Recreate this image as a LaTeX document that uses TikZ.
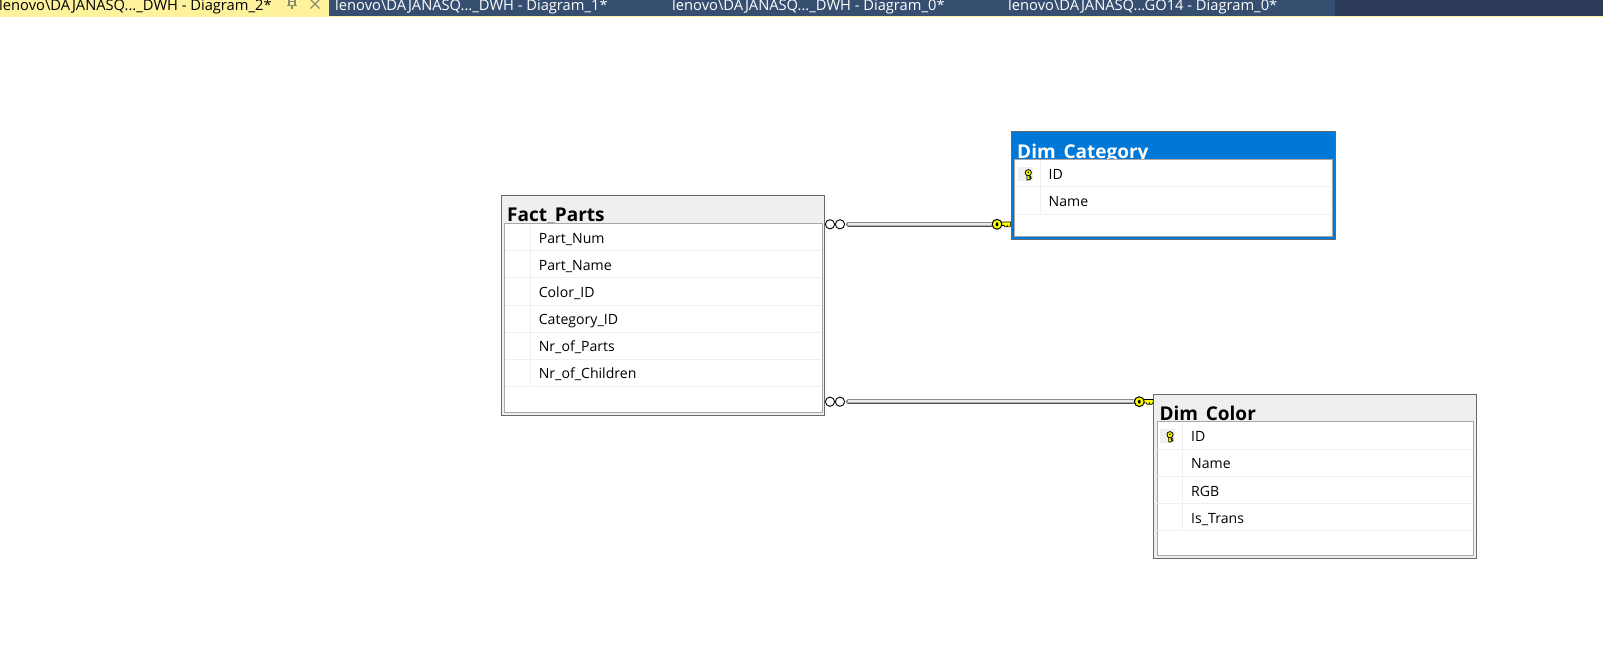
\documentclass[tikz,border=0pt]{standalone}
\usepackage{fontspec}
\setmainfont{Open Sans}
\definecolor{tabyellow}{HTML}{FFF29D}
\definecolor{tabblue}{HTML}{364F70}
\definecolor{tabdark}{HTML}{2B3A58}
\definecolor{selblue}{HTML}{0078D7}
\definecolor{titlegrey}{HTML}{EFEFEF}
\definecolor{outergrey}{HTML}{696969}
\definecolor{innergrey}{HTML}{A8A8A8}
\definecolor{rowgrey}{HTML}{EFEFEF}
\definecolor{keyyellow}{HTML}{FFFF00}
\definecolor{glyphgrey}{HTML}{8C8A70}
\tikzset{
  tabtext/.style={anchor=base west,inner sep=0pt,font=\fontsize{14.7}{15}\selectfont},
  titletext/.style={anchor=base west,inner sep=0pt,font=\fontsize{19}{20}\selectfont\bfseries},
  rowtext/.style={anchor=base west,inner sep=0pt,font=\fontsize{14.1}{15}\selectfont},
  outerbox/.style={draw=outergrey,line width=1pt,fill=titlegrey,rectangle,inner sep=0pt,anchor=north west},
  selbox/.style={draw=outergrey,line width=1pt,fill=selblue,rectangle,inner sep=0pt,anchor=north west},
  innerbox/.style={draw=innergrey,line width=1pt,fill=white,rectangle,inner sep=0pt,anchor=north west},
  rowline/.style={draw=rowgrey,line width=1pt},
  infcircle/.style={draw=black,fill=white,line width=.9pt},
  keypart/.style={draw=black,fill=keyyellow,line width=1pt},
  keyshaft/.style={draw=black,fill=keyyellow,line width=.7pt},
  endnode/.style={rectangle,inner sep=0pt,minimum height=5pt},
}
% large key, pointing right, origin at the circle centre
\newcommand{\bigkey}[1]{%
  \begin{scope}[shift={(#1)}]
    \filldraw[keyshaft] (4,-2.2) -- (13.8,-2.2) -- (13.8,1) -- (12.6,2.6) -- (10.6,2.6) -- (10.2,1.3) -- (9.6,2.6) -- (7.8,2.6) -- (7.2,1.3) -- (4,1.3) -- cycle;
    \filldraw[keypart] (0,0) circle (4.9);
    \fill[black] (0,0) ellipse (1.4 and 2);
  \end{scope}}
% small key, pointing down
\newcommand{\smallkey}[1]{%
  \begin{scope}[shift={(#1)}]
    \fill[titlegrey] (-10,-6.7) rectangle (5,7);
    \filldraw[keypart,line width=.8pt] (-1.3,1) -- (1.3,1) -- (1.3,2.2) -- (2.7,3) -- (1.3,3.8) -- (2.7,4.6) -- (.6,5.9) -- (-1.3,5.9) -- cycle;
    \filldraw[keypart,line width=.8pt] (0,-1.3) circle (3.1);
    \fill[black] (0,-1.7) circle (.9);
  \end{scope}}
\begin{document}
\begin{tikzpicture}[x=1pt,y=-1pt]
\useasboundingbox (0,0) rectangle (1603,660);
\fill[white] (0,0) rectangle (1603,660);
% tab bar
\fill[tabdark] (0,0) rectangle (1603,15.7);
\fill[tabblue] (329,0) rectangle (1335,15.7);
\fill[tabyellow] (0,0) rectangle (329,15.7);
\fill[tabyellow] (0,15.7) rectangle (1603,17.3);
\begin{scope}
\clip (0,0) rectangle (1603,15.7);
\node[tabtext,text=black] (tab1) at (-1,10.7) {lenovo\textbackslash DAJANASQ...\_DWH - Diagram\_2*};
\node[tabtext,text=white] (tab2) at (335,10.7) {lenovo\textbackslash DAJANASQ...\_DWH - Diagram\_1*};
\node[tabtext,text=white] (tab3) at (672,10.7) {lenovo\textbackslash DAJANASQ...\_DWH - Diagram\_0*};
\node[tabtext,text=white] (tab4) at (1008,10.7) {lenovo\textbackslash DAJANASQ...GO14 - Diagram\_0*};
\end{scope}
% pin and close glyphs in the active tab
\draw[glyphgrey,line width=1.1pt] (289,0) -- (289,5.5) (295,0) -- (295,5.5) (287,5.5) -- (297,5.5) (292,5.5) -- (292,9) (289,1.5) -- (295,1.5);
\draw[glyphgrey,line width=1.3pt] (310.5,-.5) -- (319.5,8.5) (319.5,-.5) -- (310.5,8.5);

% Fact_Parts
\node[outerbox,minimum width=323.3pt,minimum height=219.7pt] (fact) at (501,195) {};
\node[titletext,text=black] (factT) at (507,221.7) {Fact\_Parts};
\node[innerbox,minimum width=317.2pt,minimum height=188.2pt] (factI) at (504.3,223.5) {};
\foreach \yy in {250.9,278,305.1,332.2,359.3,386.4} \draw[rowline] (504.8,\yy) -- (821,\yy);
\draw[rowline] (530,224) -- (530,386.4);
\node[rowtext] (f1) at (538.6,243.3) {Part\_Num};
\node[rowtext] (f2) at (538.6,270.4) {Part\_Name};
\node[rowtext] (f3) at (538.6,297.5) {Color\_ID};
\node[rowtext] (f4) at (538.6,324.6) {Category\_ID};
\node[rowtext] (f5) at (538.6,351.7) {Nr\_of\_Parts};
\node[rowtext] (f6) at (538.6,378.8) {Nr\_of\_Children};

% Dim_Category
\node[selbox,minimum width=324pt,minimum height=108.3pt] (cat) at (1011,131) {};
\node[titletext,text=white] (catT) at (1017,158.5) {Dim\_Category};
\node[innerbox,minimum width=317.2pt,minimum height=76.7pt] (catI) at (1014.3,159.3) {};
\foreach \yy in {187,214.3} \draw[rowline] (1014.8,\yy) -- (1331,\yy);
\draw[rowline] (1040.7,160) -- (1040.7,214.3);
\smallkey{1028.3,174}
\node[rowtext] (c1) at (1048.5,179.3) {ID};
\node[rowtext] (c2) at (1048.5,206.4) {Name};

% Dim_Color
\node[outerbox,minimum width=322.9pt,minimum height=164pt] (col) at (1153.3,394.2) {};
\node[titletext,text=black] (colT) at (1159.3,420) {Dim\_Color};
\node[innerbox,minimum width=316.6pt,minimum height=133.7pt] (colI) at (1156.7,421.3) {};
\foreach \yy in {449,476.2,503.4,530.6} \draw[rowline] (1157.2,\yy) -- (1472.8,\yy);
\draw[rowline] (1182,422) -- (1182,530.6);
\smallkey{1170,436}
\node[rowtext] (d1) at (1191,441.6) {ID};
\node[rowtext] (d2) at (1191,468.8) {Name};
\node[rowtext] (d3) at (1191,496) {RGB};
\node[rowtext] (d4) at (1191,523.2) {Is\_Trans};

% connector ends
\node[endnode,minimum width=21.7pt] (inf1) at (835.2,224.3) {};
\node[endnode,minimum width=21.7pt] (inf2) at (835.2,401.7) {};
\node[endnode,minimum width=10pt] (key1) at (997,224.3) {};
\node[endnode,minimum width=10pt] (key2) at (1139.3,401.7) {};
% connectors
\foreach \a/\b in {inf1/key1,inf2/key2}{
  \draw[black!45,line width=4.6pt,line cap=round] ([xshift=2pt]\a.east) -- (\b.west);
  \draw[black!8,line width=1.6pt] ([shift={(2,-.5)}]\a.east) -- ([yshift=.5pt]\b.west);
  \draw[black!30,line width=.8pt] ([shift={(2,.7)}]\a.east) -- ([yshift=-.7pt]\b.west);
  \draw[black!70,line width=1.1pt] ([shift={(1.5,1.8)}]\a.east) -- ([yshift=-1.8pt]\b.west);
}
% connector symbols
\foreach \n in {inf1,inf2}{
  \filldraw[infcircle] ([xshift=-5.2pt]\n.center) circle (4.6);
  \filldraw[infcircle] ([xshift=4.8pt]\n.center) circle (4.6);
}
\bigkey{key1.center}
\bigkey{key2.center}
\end{tikzpicture}
\end{document}
